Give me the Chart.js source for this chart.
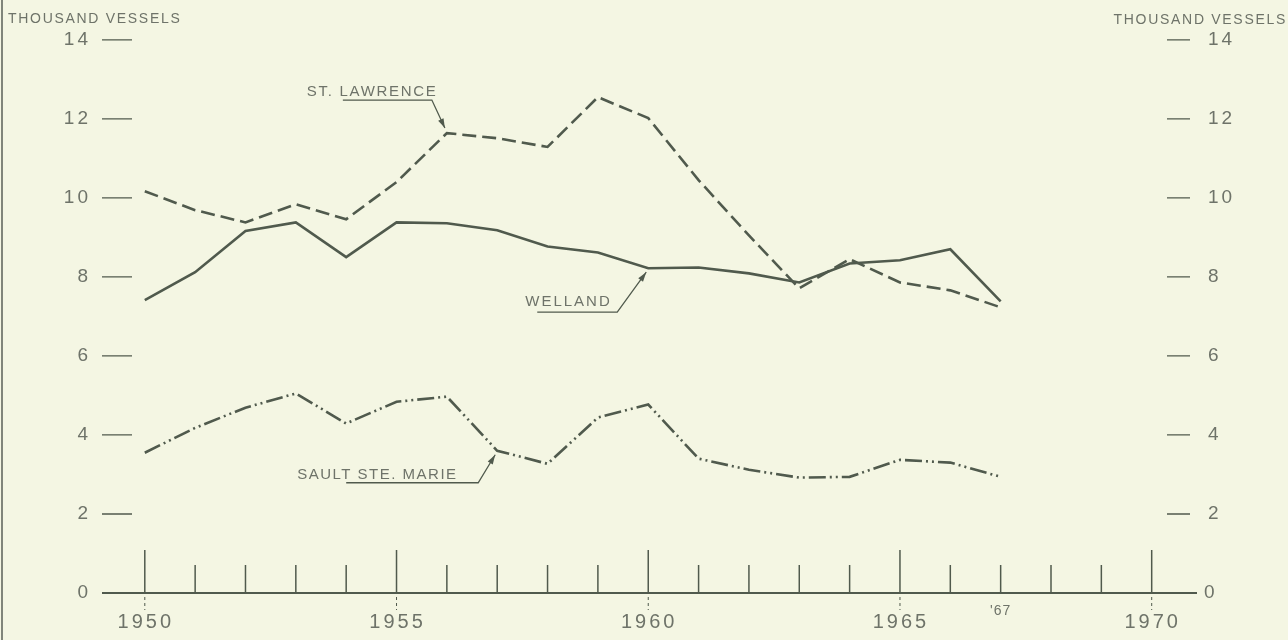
<!DOCTYPE html>
<html>
<head>
<meta charset="utf-8">
<script src="https://cdn.jsdelivr.net/npm/chart.js@4.4.1/dist/chart.umd.min.js"></script>
<style>
  html, body { margin: 0; padding: 0; background: #f4f6e3; }
  #wrap { width: 1288px; height: 640px; }
</style>
</head>
<body>
<div id="wrap"><canvas id="c" width="1288" height="640"></canvas></div>
<script>
// vessel transits, thousands per year
const years = [1950, 1951, 1952, 1953, 1954, 1955, 1956, 1957, 1958, 1959, 1960, 1961, 1962, 1963, 1964, 1965, 1966, 1967]
const stLawrence = [10.17, 9.69, 9.38, 9.84, 9.46, 10.4, 11.64, 11.51, 11.29, 12.55, 12.02, 10.45, 9.05, 7.71, 8.45, 7.86, 7.66, 7.23]
const welland = [7.41, 8.12, 9.16, 9.38, 8.5, 9.38, 9.36, 9.18, 8.77, 8.62, 8.22, 8.24, 8.09, 7.86, 8.34, 8.42, 8.7, 7.38]
const saultSteMarie = [3.55, 4.18, 4.69, 5.05, 4.29, 4.84, 4.97, 3.6, 3.27, 4.44, 4.77, 3.4, 3.12, 2.92, 2.94, 3.37, 3.3, 2.94]

const yTicks = [2, 4, 6, 8, 10, 12, 14]
const yearLabels = [1950, 1955, 1960, 1965, 1970]
const tickYears = [1950, 1951, 1952, 1953, 1954, 1955, 1956, 1957, 1958, 1959, 1960,
  1961, 1962, 1963, 1964, 1965, 1966, 1967, 1968, 1969, 1970]

const INK = '#505a4d'
const TEXT = '#6e7369'
const FONT = '"Liberation Sans", Arial, sans-serif'

const pts = arr => years.map((yr, i) => ({ x: yr, y: arr[i] }))

function arrow(ctx, path) {
  ctx.beginPath()
  ctx.moveTo(path[0][0], path[0][1])
  for (let i = 1; i < path.length; i++) ctx.lineTo(path[i][0], path[i][1])
  ctx.stroke()
  const [x1, y1] = path[path.length - 2]
  const [x2, y2] = path[path.length - 1]
  const ang = Math.atan2(y2 - y1, x2 - x1)
  ctx.beginPath()
  ctx.moveTo(x2, y2)
  ctx.lineTo(x2 - 10 * Math.cos(ang - 0.3), y2 - 10 * Math.sin(ang - 0.3))
  ctx.lineTo(x2 - 10 * Math.cos(ang + 0.3), y2 - 10 * Math.sin(ang + 0.3))
  ctx.closePath()
  ctx.fill()
}

const deco = {
  id: 'deco',
  beforeDatasetsDraw(chart) {
    const { ctx, chartArea: a, scales: { x, y } } = chart
    const y0 = y.getPixelForValue(0)
    ctx.save()

    // scan edge on the left
    ctx.fillStyle = '#80857a'
    ctx.fillRect(1, 0, 2, 640)

    ctx.strokeStyle = INK
    ctx.fillStyle = TEXT
    ctx.lineWidth = 2
    ctx.beginPath()
    ctx.moveTo(a.left, y0)
    ctx.lineTo(a.right, y0)
    ctx.stroke()

    // year ticks standing on the axis
    ctx.lineWidth = 1.5
    tickYears.forEach(yr => {
      const px = x.getPixelForValue(yr)
      const h = yr % 5 === 0 ? 43 : 28
      ctx.beginPath()
      ctx.moveTo(px, y0)
      ctx.lineTo(px, y0 - h)
      ctx.stroke()
    })
    ctx.setLineDash([3, 3])
    ctx.lineWidth = 1
    yearLabels.forEach(yr => {
      const px = x.getPixelForValue(yr)
      ctx.beginPath()
      ctx.moveTo(px, y0 + 4)
      ctx.lineTo(px, y0 + 17)
      ctx.stroke()
    })
    ctx.setLineDash([])

    // y tick dashes, both sides
    ctx.lineWidth = 1.3
    yTicks.forEach(v => {
      const py = y.getPixelForValue(v)
      ctx.beginPath()
      ctx.moveTo(a.left, py)
      ctx.lineTo(a.left + 30, py)
      ctx.moveTo(a.right - 30, py)
      ctx.lineTo(a.right - 7, py)
      ctx.stroke()
    })

    ctx.textBaseline = 'middle'
    ctx.font = '19px ' + FONT
    ctx.letterSpacing = '3px'
    ;[0, ...yTicks].forEach(v => {
      const py = y.getPixelForValue(v)
      ctx.textAlign = 'right'
      ctx.fillText(String(v), a.left - 11, py)
      ctx.textAlign = 'left'
      ctx.fillText(String(v), a.right + (v === 0 ? 7 : 11), py)
    })

    ctx.font = '20px ' + FONT
    ctx.letterSpacing = '3px'
    ctx.textAlign = 'center'
    yearLabels.forEach(yr => {
      ctx.fillText(String(yr), x.getPixelForValue(yr) + 1, y0 + 29)
    })
    ctx.font = '14px ' + FONT
    ctx.letterSpacing = '1px'
    ctx.fillText("'67", x.getPixelForValue(1967), y0 + 18)

    ctx.font = '14px ' + FONT
    ctx.letterSpacing = '1.7px'
    ctx.textAlign = 'left'
    ctx.fillText('THOUSAND VESSELS', 8, 19)
    ctx.textAlign = 'right'
    ctx.fillText('THOUSAND VESSELS', 1287, 20)
    ctx.restore()
  },
  afterDatasetsDraw(chart) {
    const { ctx, scales: { x, y } } = chart
    ctx.save()
    ctx.strokeStyle = INK
    ctx.fillStyle = INK
    ctx.lineWidth = 1.3
    ctx.font = '15px ' + FONT
    ctx.textBaseline = 'alphabetic'
    ctx.textAlign = 'left'

    // ST. LAWRENCE -> 1956
    let tx = x.getPixelForValue(1956), ty = y.getPixelForValue(stLawrence[6])
    arrow(ctx, [[tx - 104, ty - 33], [tx - 15, ty - 33], [tx - 2, ty - 5]])
    ctx.fillStyle = TEXT
    ctx.letterSpacing = '1.7px'
    ctx.fillText('ST. LAWRENCE', tx - 140, ty - 37)

    // WELLAND -> 1960
    ctx.fillStyle = INK
    tx = x.getPixelForValue(1960); ty = y.getPixelForValue(welland[10])
    arrow(ctx, [[tx - 111, ty + 44], [tx - 31, ty + 44], [tx - 2, ty + 4]])
    ctx.fillStyle = TEXT
    ctx.letterSpacing = '2px'
    ctx.fillText('WELLAND', tx - 123, ty + 38)

    // SAULT STE. MARIE -> 1957
    ctx.fillStyle = INK
    tx = x.getPixelForValue(1957); ty = y.getPixelForValue(saultSteMarie[7])
    arrow(ctx, [[tx - 151, ty + 32], [tx - 19, ty + 32], [tx - 2, ty + 4]])
    ctx.fillStyle = TEXT
    ctx.letterSpacing = '1.5px'
    ctx.fillText('SAULT STE. MARIE', tx - 200, ty + 28)
    ctx.restore()
  }
}

new Chart(document.getElementById('c'), {
  type: 'line',
  data: {
    datasets: [
      { label: 'St. Lawrence', data: pts(stLawrence), borderColor: INK, borderWidth: 2.6, borderDash: [14, 6] },
      { label: 'Welland', data: pts(welland), borderColor: INK, borderWidth: 2.6 },
      { label: 'Sault Ste. Marie', data: pts(saultSteMarie), borderColor: INK, borderWidth: 2.6, borderDash: [17, 4, 2, 4, 2, 4] }
    ]
  },
  options: {
    responsive: false,
    animation: false,
    devicePixelRatio: 1,
    layout: { padding: { left: 102, right: 91, top: 28, bottom: 47 } },
    elements: { point: { radius: 0 }, line: { tension: 0, borderCapStyle: 'butt', borderJoinStyle: 'miter' } },
    plugins: { legend: { display: false }, tooltip: { enabled: false } },
    scales: {
      x: { type: 'linear', min: 1949.15, max: 1970.9, display: false },
      y: { min: 0, max: 14.3, display: false }
    }
  },
  plugins: [deco]
})
</script>
</body>
</html>
